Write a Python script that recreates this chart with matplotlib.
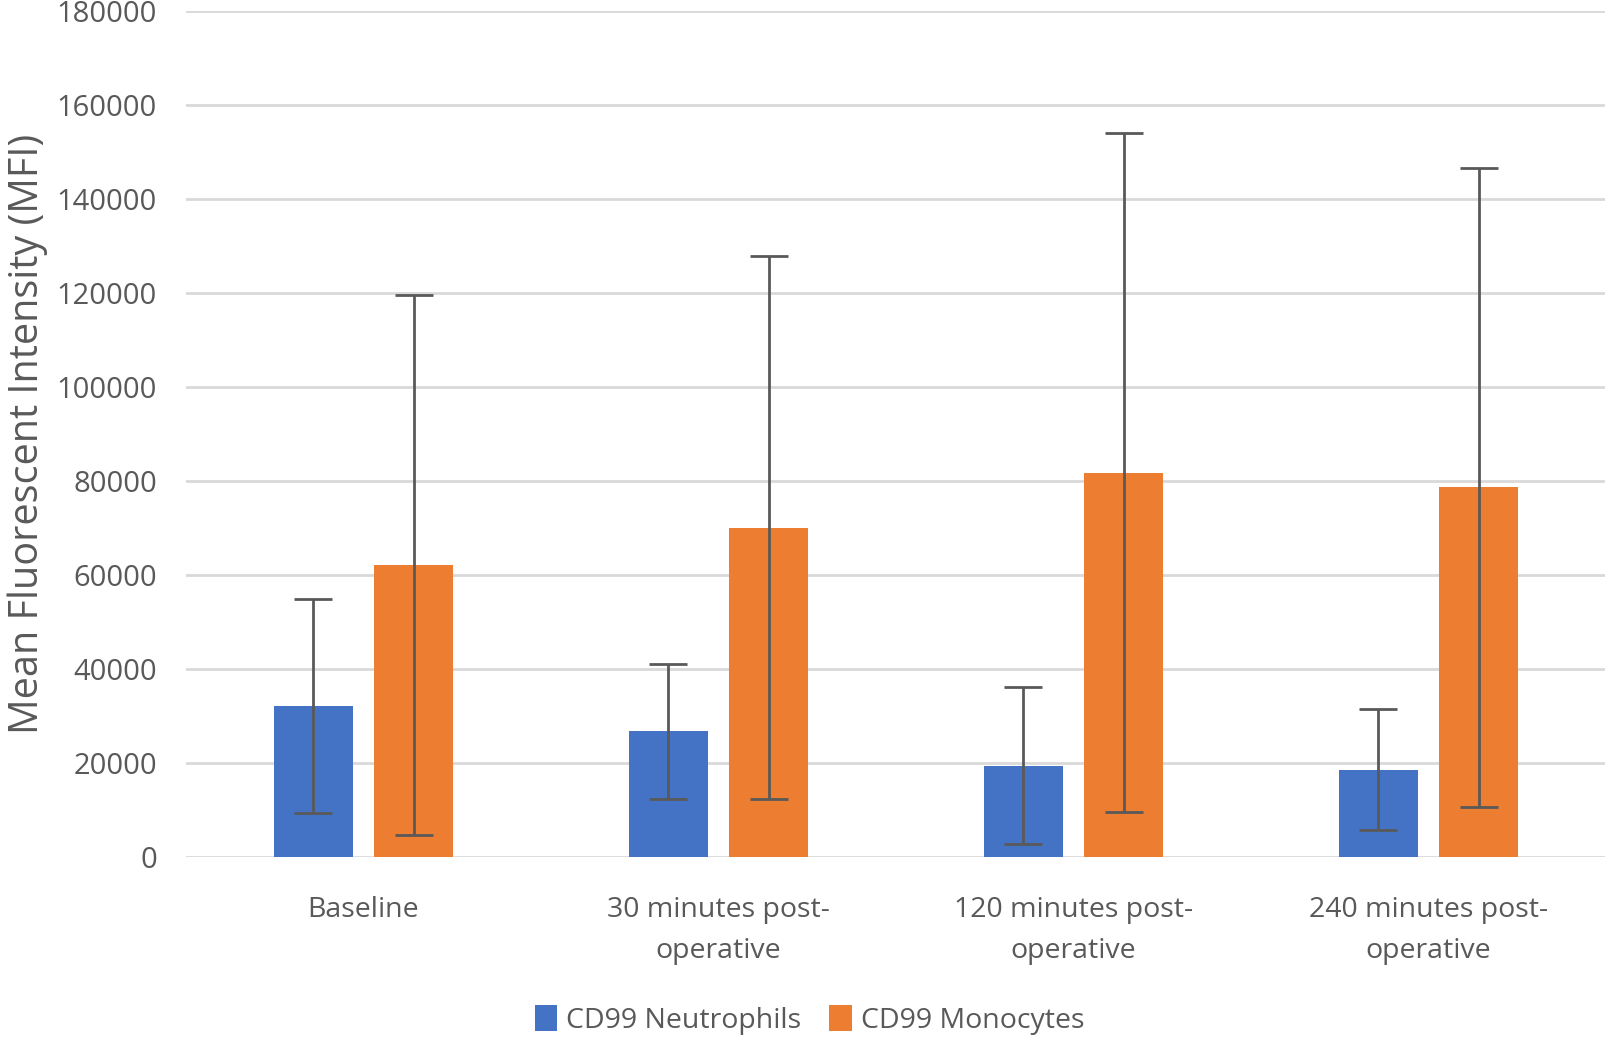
import matplotlib.pyplot as plt
import numpy as np

plt.rcParams['font.family'] = ['Open Sans', 'DejaVu Sans']

categories = ['Baseline', '30 minutes post-\noperative', '120 minutes post-\noperative', '240 minutes post-\noperative']
neutro = [32100, 26700, 19400, 18600]
neutro_err = [22800, 14300, 16700, 12950]
mono = [62100, 70100, 81800, 78700]
mono_err = [57500, 57800, 72200, 68000]

txt = '#595959'
x = np.arange(len(categories))
w = 0.222
off = 0.1414

fig = plt.figure(figsize=(16.06, 10.41), dpi=100)
ax = fig.add_axes([0.1158, 0.1768, 0.8842, 0.8126])

ekw = dict(ecolor='#595959', elinewidth=2, capsize=13.5, capthick=2)
ax.bar(x - off, neutro, w, color='#4472C4', yerr=neutro_err, error_kw=ekw,
       label='CD99 Neutrophils', zorder=2)
ax.bar(x + off, mono, w, color='#ED7D31', yerr=mono_err, error_kw=ekw,
       label='CD99 Monocytes', zorder=2)

ax.set_xlim(-0.5, 3.5)
ax.set_ylim(0, 180000)
ax.set_yticks(range(0, 180001, 20000))
ax.yaxis.grid(True, color='#d9d9d9', linewidth=2, zorder=0)
ax.set_axisbelow(True)
for s in ax.spines.values():
    s.set_visible(False)
ax.tick_params(axis='both', length=0, colors=txt)
ax.tick_params(axis='y', labelsize=21, pad=21)
ax.set_xticks(x)
ax.set_xticklabels(categories, fontsize=20.5, linespacing=1.62)
ax.tick_params(axis='x', pad=28)
ax.set_ylabel('Mean Fluorescent Intensity (MFI)', fontsize=28.5, color=txt)
ax.yaxis.set_label_coords(-0.097, 0.5)

fig.legend(loc='center', bbox_to_anchor=(0.504, 0.02), ncol=2, frameon=False,
           fontsize=20.5, labelcolor=txt, handlelength=0.8, handleheight=1.0,
           handletextpad=0.3, columnspacing=1.0)

fig.savefig('out.png', dpi=100)
